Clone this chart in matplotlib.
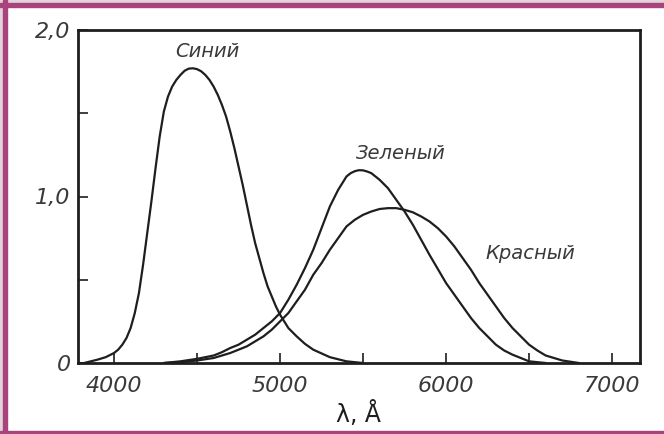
import matplotlib
matplotlib.use("Agg")
import matplotlib.pyplot as plt
from matplotlib.patches import Rectangle
from matplotlib.ticker import FixedLocator, FuncFormatter

# ── DATA ─────────────────────────────────────────────────────────────────────

blue_wl = [3820, 3900, 3950, 4000, 4025, 4050, 4075, 4100, 4125, 4150, 4175,
           4200, 4225, 4250, 4275, 4300, 4325, 4350, 4375, 4400, 4425, 4450,
           4475, 4500, 4525, 4550, 4575, 4600, 4625, 4650, 4675, 4700, 4725,
           4750, 4775, 4800, 4825, 4850, 4875, 4900, 4925, 4950, 4975, 5000,
           5050, 5100, 5150, 5200, 5300, 5400, 5500]
blue_val = [0.0, 0.02, 0.035, 0.06, 0.08, 0.11, 0.15, 0.21, 0.30, 0.42, 0.59,
            0.78, 0.97, 1.17, 1.36, 1.51, 1.60, 1.66, 1.70, 1.73, 1.755, 1.768,
            1.77, 1.765, 1.752, 1.73, 1.70, 1.66, 1.61, 1.55, 1.48, 1.39, 1.29,
            1.18, 1.07, 0.95, 0.83, 0.72, 0.63, 0.54, 0.46, 0.40, 0.34, 0.29,
            0.21, 0.16, 0.115, 0.08, 0.035, 0.01, 0.0]

green_wl = [4300, 4400, 4500, 4600, 4650, 4700, 4750, 4800, 4850, 4900, 4950,
            5000, 5050, 5100, 5150, 5200, 5250, 5300, 5350, 5400, 5425, 5450,
            5475, 5500, 5525, 5550, 5600, 5650, 5700, 5750, 5800, 5850, 5900,
            5950, 6000, 6050, 6100, 6150, 6200, 6250, 6300, 6350, 6400, 6500,
            6600]
green_val = [0.0, 0.01, 0.025, 0.045, 0.065, 0.09, 0.11, 0.14, 0.17, 0.21, 0.25,
             0.30, 0.38, 0.47, 0.57, 0.68, 0.81, 0.94, 1.04, 1.12, 1.14, 1.152,
             1.158, 1.157, 1.15, 1.14, 1.10, 1.05, 0.98, 0.91, 0.83, 0.74, 0.65,
             0.565, 0.48, 0.41, 0.34, 0.27, 0.21, 0.16, 0.11, 0.075, 0.05, 0.01,
             0.0]

red_wl = [4300, 4400, 4500, 4600, 4650, 4700, 4750, 4800, 4850, 4900, 4950,
          5000, 5050, 5100, 5150, 5200, 5250, 5300, 5350, 5400, 5450, 5500,
          5550, 5600, 5650, 5700, 5750, 5800, 5850, 5900, 5950, 6000, 6050,
          6100, 6150, 6200, 6250, 6300, 6350, 6400, 6450, 6500, 6550, 6600,
          6700, 6800]
red_val = [0.0, 0.005, 0.015, 0.03, 0.045, 0.06, 0.08, 0.10, 0.13, 0.16, 0.20,
           0.25, 0.30, 0.37, 0.44, 0.53, 0.60, 0.68, 0.75, 0.82, 0.86, 0.89,
           0.91, 0.925, 0.93, 0.93, 0.92, 0.905, 0.88, 0.85, 0.81, 0.76, 0.70,
           0.63, 0.56, 0.48, 0.41, 0.34, 0.27, 0.21, 0.16, 0.11, 0.075, 0.045,
           0.015, 0.0]

x_major = [4000, 5000, 6000, 7000]
x_minor = [4500, 5500, 6500]
y_major = [0, 1, 2]
y_minor = [0.5, 1.5]

# curve names and where they sit (data coords)
labels = ["Синий", "Зеленый", "Красный"]
label_pos = [(4560, 1.87), (5730, 1.26), (6505, 0.655)]

# ── STYLE ────────────────────────────────────────────────────────────────────

INK = "#1e1e1e"
TXT = "#3a3a3a"
FRAME = "#a8437e"
BAND = "#e0d6d9"

W, H = 664, 434
fig = plt.figure(figsize=(W / 100, H / 100), dpi=100, facecolor="white")
ax = fig.add_axes([77.5 / W, 1 - 363 / H, (639.5 - 77.5) / W, (363 - 30) / H])

for wl, val in [(blue_wl, blue_val), (green_wl, green_val), (red_wl, red_val)]:
    ax.plot(wl, val, color=INK, linewidth=1.6, solid_joinstyle="round",
            solid_capstyle="round")

ax.set_xlim(3780, 7165)
ax.set_ylim(0, 2)

ax.xaxis.set_major_locator(FixedLocator(x_major))
ax.xaxis.set_minor_locator(FixedLocator(x_minor))
ax.yaxis.set_major_locator(FixedLocator(y_major))
ax.yaxis.set_minor_locator(FixedLocator(y_minor))
ax.yaxis.set_major_formatter(FuncFormatter(lambda v, p: "0" if v == 0 else f"{v:.1f}".replace(".", ",")))

ax.tick_params(which="both", direction="in", length=7, width=1.2, color=INK)
ax.tick_params(axis="x", which="major", labelsize=16, labelcolor=TXT, pad=9)
ax.tick_params(axis="y", which="major", labelsize=16, labelcolor=TXT, pad=5)
for t in ax.get_xticklabels() + ax.get_yticklabels():
    t.set_fontstyle("italic")

for s in ax.spines.values():
    s.set_linewidth(2.0)
    s.set_color(INK)

ax.set_xlabel("λ, Å", fontsize=17, color=INK, labelpad=4)

for name, (lx, ly) in zip(labels, label_pos):
    ax.text(lx, ly, name, fontsize=14, fontstyle="italic", color=TXT,
            ha="center", va="center")

# scanned-page frame
fig.add_artist(Rectangle((0, 1 - 3.3 / H), 1, 3.3 / H, transform=fig.transFigure,
                         color=BAND, zorder=10))
fig.add_artist(Rectangle((0, 0), 3.3 / W, 1, transform=fig.transFigure,
                         color=BAND, zorder=10))
fig.add_artist(Rectangle((0, 1 - 6.7 / H), 1, 3.4 / H, transform=fig.transFigure,
                         color=FRAME, zorder=11))
fig.add_artist(Rectangle((3.3 / W, 0), 3.4 / W, 1, transform=fig.transFigure,
                         color=FRAME, zorder=11))
fig.add_artist(Rectangle((0, 0.7 / H), 1, 2.4 / H, transform=fig.transFigure,
                         color=FRAME, zorder=11))

fig.savefig("out.png", dpi=100, facecolor="white")
